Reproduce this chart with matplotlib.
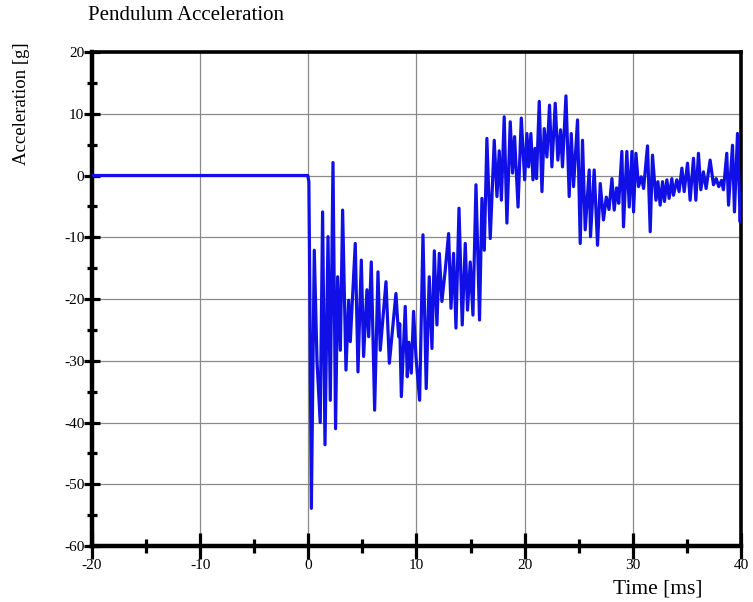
import matplotlib
matplotlib.use("Agg")
import matplotlib.pyplot as plt
from matplotlib.ticker import MultipleLocator

plt.rcParams['font.family'] = ['Liberation Serif', 'DejaVu Serif']
plt.rcParams['axes.unicode_minus'] = False

# time [ms] and acceleration [g] (turning points)
t_ms = [-20, -0.05, 0.05, 0.12, 0.28, 0.55, 0.8, 1.1, 1.32, 1.54, 1.82, 2.03,
        2.28, 2.52, 2.71, 2.96, 3.17, 3.48, 3.73, 3.88, 4.34, 4.59, 4.9, 5.11,
        5.42, 5.58, 5.82, 6.13, 6.44, 6.65, 7.18, 7.49, 8.1, 8.35, 8.45, 8.6,
        8.96, 9.15, 9.3, 9.52, 9.73, 9.95, 10.29, 10.6, 10.9, 11.18, 11.43,
        11.65, 11.89, 12.11, 12.35, 12.66, 12.97, 13.19, 13.43, 13.65, 13.93,
        14.23, 14.51, 14.72, 14.97, 15.22, 15.5, 15.83, 16.05, 16.27, 16.51,
        16.82, 17.19, 17.44, 17.65, 17.85, 18.11, 18.36, 18.67, 18.88, 19.07,
        19.39, 19.69, 20.0, 20.21, 20.36, 20.58, 20.77, 20.96, 21.1, 21.35,
        21.6, 21.81, 22.06, 22.3, 22.52, 22.83, 23.07, 23.32, 23.5, 23.82,
        24.12, 24.31, 24.52, 24.89, 25.14, 25.35, 25.6, 25.97, 26.09, 26.43,
        26.74, 26.99, 27.29, 27.55, 27.8, 28.07, 28.28, 28.5, 28.7, 28.99,
        29.14, 29.45, 29.67, 29.92, 30.07, 30.29, 30.53, 30.78, 31.0, 31.36,
        31.61, 31.82, 32.14, 32.32, 32.53, 32.75, 32.93, 33.15, 33.36, 33.61,
        33.76, 34.07, 34.28, 34.54, 34.75, 35.06, 35.3, 35.61, 35.83, 36.07,
        36.29, 36.53, 36.78, 37.15, 37.46, 37.71, 37.95, 38.2, 38.38, 38.69,
        38.85, 39.22, 39.4, 39.68, 39.93, 40.0]
acc_g = [0, 0, -1, -15, -53.9, -12.1, -30, -40, -5.9, -43.6, -9.9, -36.4,
         2.1, -41, -16.4, -28.3, -5.6, -31.5, -20.2, -26.9, -11, -31.8, -13.7,
         -29.3, -18.5, -26.1, -14, -38, -15.6, -28.3, -17.2, -30.4, -19.1,
         -26.1, -24, -35.8, -21.2, -32.6, -27, -32, -22, -29.3, -36.4, -9.6,
         -34.5, -16.4, -28, -12.2, -24.2, -12.6, -20.4, -15.3, -9.4, -21.5,
         -12.6, -24.7, -5.3, -24.2, -11, -21.8, -14, -22.6, -1.5, -23.4, -3.7,
         -12.1, 6.0, -10.2, 5.7, -3.4, 4, -4, 9.5, -7.7, 8.7, 0.4, 6.3, -5.1,
         9.3, -0.7, 6.8, 1.4, 6.8, -0.7, 4.4, -0.5, 12, -2.6, 7.6, 3.0, 11.4,
         1.4, 11.7, 2.5, 7.4, 1.4, 12.9, -3.4, 6.8, -1.8, 9.0, -11, 5.7, -8.8,
         0.9, -9.9, 0.9, -11.3, -1.3, -7.2, -3.5, -5.5, -0.5, -5.6, -2, -4.5,
         3.9, -8.3, 3.9, -5.1, 3.9, -5.9, 3.6, -1.8, -0.2, -2.1, 4.8, -9.1, 3.3,
         -4, -1, -4.8, -1, -4.2, -0.7, -3.7, -0.5, -3.2, -0.7, -2.6, 1.2, -2.6,
         2, -4, 2.8, -4, 3.6, -2.3, 0.6, -2.1, 2.5, -1.5, -0.5, -1.8, -0.8,
         -2.3, 3.6, -4.8, 4.9, -5.9, 6.8, -7.5, -3]

fig = plt.figure(figsize=(7.53, 6.02), dpi=100)
ax = fig.add_axes([0.1222, 0.093, 0.8618, 0.8206])

ax.plot(t_ms, acc_g, color='#1010e6', linewidth=2.3, zorder=3)

ax.set_xlim(-20, 40)
ax.set_ylim(-60, 20)
ax.xaxis.set_major_locator(MultipleLocator(10))
ax.xaxis.set_minor_locator(MultipleLocator(5))
ax.yaxis.set_major_locator(MultipleLocator(10))
ax.yaxis.set_minor_locator(MultipleLocator(5))
ax.grid(True, which='major', color='#8a8a8a', linewidth=0.9)

ax.tick_params(axis='x', which='major', direction='inout', length=19, width=2.3,
               labelsize=11, pad=0)
ax.tick_params(axis='x', which='minor', direction='inout', length=10, width=2.3)
ax.tick_params(axis='y', which='major', direction='inout', length=11, width=2.3,
               labelsize=11, pad=0)
ax.tick_params(axis='y', which='minor', direction='inout', length=7, width=2.3)

for side in ['left', 'bottom']:
    ax.spines[side].set_linewidth(3.2)
for side in ['top', 'right']:
    ax.spines[side].set_linewidth(2.6)

fig.text(88/753, 1 - 16/602, 'Pendulum Acceleration', fontsize=15,
         ha='left', va='center')
fig.text(22/753, 1 - 104/602, 'Acceleration [g]', fontsize=13.5,
         rotation=90, ha='center', va='center')
fig.text(658/753, 1 - 589/602, 'Time [ms]', fontsize=15.5,
         ha='center', va='center')

fig.savefig('out.png', dpi=100)
